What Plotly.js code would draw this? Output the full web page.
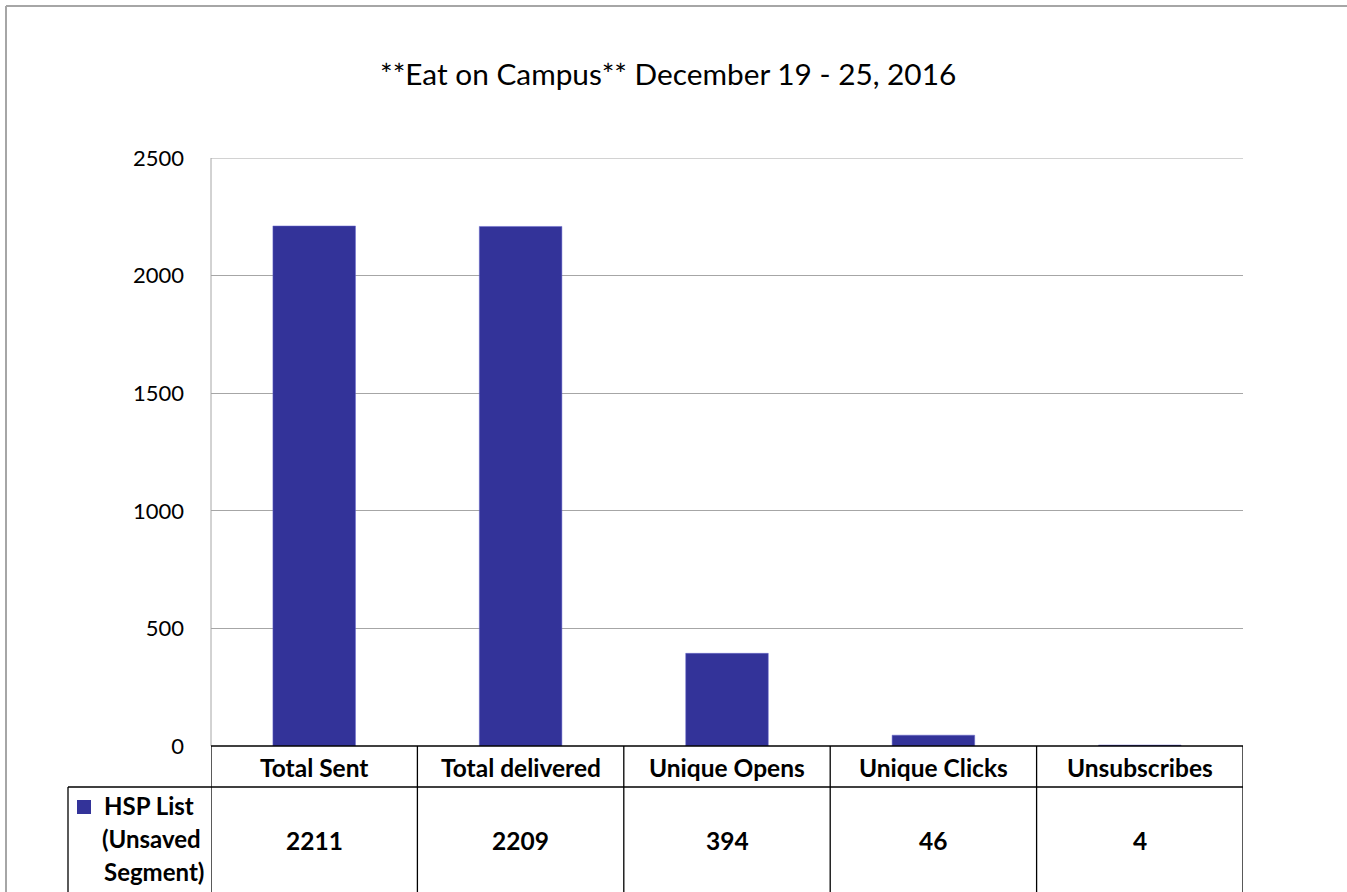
<!DOCTYPE html>
<html><head><meta charset="utf-8">
<script src="https://cdn.plot.ly/plotly-3.0.1.min.js"></script>
<style>html,body{margin:0;padding:0;background:#fff;}#chart{width:1347px;height:892px;}</style>
</head><body><div id="chart"></div>
<script>
const categories = ["Total Sent", "Total delivered", "Unique Opens", "Unique Clicks", "Unsubscribes"];
const seriesName = "HSP List (Unsaved Segment)";
const seriesLabelLines = ["HSP List", "(Unsaved", "Segment)"];
const values = [2211, 2209, 394, 46, 4];
const yTicks = [0, 500, 1000, 1500, 2000, 2500];
const titleText = "**Eat on Campus** December 19 - 25, 2016";

const W = 1347, H = 892;
const L = 211, R = 1243, T = 158, B = 746;
const pw = R - L, ph = B - T;
const px = v => (v - L) / pw;
const py = v => (B - v) / ph;
const FONT = "Lato, 'Liberation Sans', sans-serif";
const barColor = "#333399";

const shapes = [];
const annotations = [];
// outer chart border (top + left visible)
shapes.push({type:'line', xref:'paper', yref:'paper', x0:px(6), x1:px(1360), y0:py(6), y1:py(6), line:{color:'#a6a6a6', width:2}});
shapes.push({type:'line', xref:'paper', yref:'paper', x0:px(6), x1:px(6), y0:py(6), y1:py(900), line:{color:'#a6a6a6', width:2}});
// top gridline at max of axis
shapes.push({type:'line', xref:'paper', yref:'y', x0:0, x1:1, y0:yTicks[yTicks.length-1], y1:yTicks[yTicks.length-1], line:{color:'#a6a6a6', width:1}});
shapes.push({type:'line', xref:'paper', yref:'paper', x0:0, x1:0, y0:0, y1:1, line:{color:'#a6a6a6', width:1}});

// data table
const headerBottom = 787, tableBottom = 900, leftCell = 68;
shapes.push({type:'line', xref:'x', yref:'paper', x0:-0.5, x1:categories.length-0.5, y0:py(B), y1:py(B), line:{color:'#000', width:1.3}});
shapes.push({type:'line', xref:'paper', yref:'paper', x0:px(leftCell), x1:1, y0:py(headerBottom), y1:py(headerBottom), line:{color:'#000', width:1.3}});
shapes.push({type:'line', xref:'paper', yref:'paper', x0:px(leftCell), x1:px(leftCell), y0:py(headerBottom), y1:py(tableBottom), line:{color:'#000', width:1.3}});
for (let i = 0; i <= categories.length; i++) {
  shapes.push({type:'line', xref:'x', yref:'paper', x0:i-0.5, x1:i-0.5, y0:py(B), y1:py(tableBottom), line:{color:'#000', width:1.3}});
}
categories.forEach((c, i) => {
  annotations.push({xref:'x', yref:'paper', x:i, y:py(767), text:'<b>'+c+'</b>', showarrow:false, font:{family:FONT, size:24.5, color:'#000'}, xanchor:'center', yanchor:'middle'});
  annotations.push({xref:'x', yref:'paper', x:i, y:py(840), text:'<b>'+values[i]+'</b>', showarrow:false, font:{family:FONT, size:24.5, color:'#000'}, xanchor:'center', yanchor:'middle'});
});
// legend key
shapes.push({type:'rect', xref:'paper', yref:'paper', x0:px(77), x1:px(91), y0:py(800), y1:py(814), fillcolor:barColor, line:{width:0}});
const lineY = [806, 838, 871];
const lineXRight = [196, 203, 206];
seriesLabelLines.forEach((t, i) => {
  annotations.push({xref:'paper', yref:'paper', x:px(lineXRight[i]), y:py(lineY[i]), text:'<b>'+t+'</b>', showarrow:false, font:{family:FONT, size:24, color:'#000'}, xanchor:'right', yanchor:'middle'});
});

const data = [{
  type:'bar', x:categories, y:values, name:seriesName,
  marker:{color:barColor, line:{color:'#6666cc', width:0.5}}, width:0.4, hoverinfo:'none'
}];
const layout = {
  width:W, height:H,
  margin:{l:L, r:W-R, t:T, b:H-B, pad:0},
  paper_bgcolor:'#fff', plot_bgcolor:'#fff',
  title:{text:titleText, x:0.496, xref:'container', xanchor:'center', y:1-75/H, yanchor:'middle', font:{family:FONT, size:29.8, color:'#000'}},
  showlegend:false,
  xaxis:{type:'category', range:[-0.5, categories.length-0.5], showticklabels:false, ticks:'', showgrid:false, zeroline:false, showline:false, fixedrange:true},
  yaxis:{range:[0,2500], tickvals:yTicks, ticktext:yTicks.map(String), showgrid:true, gridcolor:'#a6a6a6', gridwidth:1, zeroline:false, showline:false, ticks:'', ticklen:0, tickfont:{family:FONT, size:22, color:'#000'}, ticklabelstandoff:26, fixedrange:true},
  shapes:shapes, annotations:annotations
};
Plotly.newPlot('chart', data, layout, {staticPlot:true, displayModeBar:false});
</script></body></html>
